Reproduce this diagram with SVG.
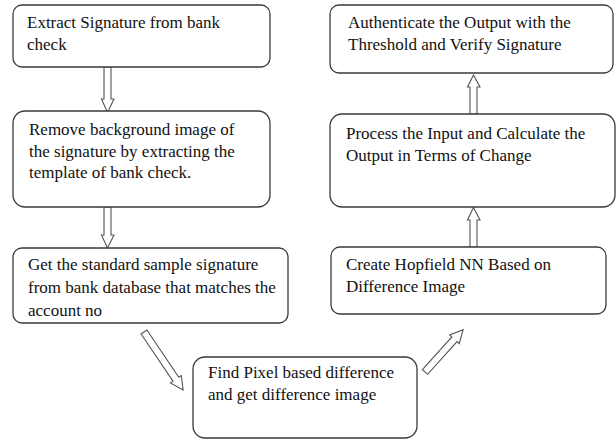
<svg xmlns="http://www.w3.org/2000/svg" width="616" height="439" viewBox="0 0 616 439">
<style>
.box{fill:#fff;stroke:#3a3a3a;stroke-width:1.3}
.t{font-family:"Liberation Serif","Times New Roman",serif;font-size:17px;fill:#111}
.arr{fill:#fff;stroke:#555;stroke-width:1.1;stroke-linejoin:miter}
</style>
<defs>
<clipPath id="clip3"><rect x="0" y="240" width="300" height="76"/></clipPath>
</defs>
<rect width="616" height="439" fill="#fff"/>
<g id="connectors">
<polygon class="arr" points="104,67 111,67 111,99 114,99 107.5,112.5 101.5,99 104,99"/>
<polygon class="arr" points="104,207 111,207 111,235 114,235 107.5,248 101.5,235 104,235"/>
<polygon class="arr" points="470,114 477,114 477,87 480,87 473.5,75 467.5,87 470,87"/>
<polygon class="arr" points="470,247 477,247 477,220 480,220 473.5,207.5 467.5,220 470,220"/>
<polygon class="arr" transform="translate(144,332) rotate(56)" points="0,-3.5 57,-3.5 57,-6.5 70,0 57,6.5 57,3.5 0,3.5"/>
<polygon class="arr" transform="translate(425,372) rotate(-48)" points="0,-3.5 44,-3.5 44,-6.5 57,0 44,6.5 44,3.5 0,3.5"/>
</g>
<g id="n1">
<rect class="box" x="13" y="5" width="257" height="62" rx="9"/>
<text class="t" x="27" y="28">Extract Signature from bank</text>
<text class="t" x="27" y="50">check</text>
</g>
<g id="n2">
<rect class="box" x="13" y="111" width="257" height="96" rx="12"/>
<text class="t" x="29" y="135">Remove background image of</text>
<text class="t" x="29" y="157">the signature by extracting the</text>
<text class="t" x="29" y="178">template of bank check.</text>
</g>
<g id="n3">
<rect class="box" x="13" y="248" width="275" height="75" rx="9"/>
<g clip-path="url(#clip3)">
<text class="t" x="28" y="270">Get the standard sample signature</text>
<text class="t" x="28" y="293">from bank database that matches the</text>
<text class="t" x="28" y="316">account no</text>
</g>
</g>
<g id="n4">
<rect class="box" x="193" y="357" width="224" height="81" rx="12"/>
<text class="t" x="208" y="378">Find Pixel based difference</text>
<text class="t" x="208" y="400">and get difference image</text>
</g>
<g id="n5">
<rect class="box" x="331" y="247" width="275" height="67" rx="9"/>
<text class="t" x="346" y="270">Create Hopfield NN Based on</text>
<text class="t" x="346" y="292">Difference Image</text>
</g>
<g id="n6">
<rect class="box" x="330" y="114" width="285" height="93" rx="12"/>
<text class="t" x="346" y="139">Process the Input and Calculate the</text>
<text class="t" x="346" y="161">Output in Terms of Change</text>
</g>
<g id="n7">
<rect class="box" x="330" y="5" width="283" height="68" rx="9"/>
<text class="t" x="348" y="28">Authenticate the Output with the</text>
<text class="t" x="348" y="50">Threshold and Verify Signature</text>
</g>
</svg>
